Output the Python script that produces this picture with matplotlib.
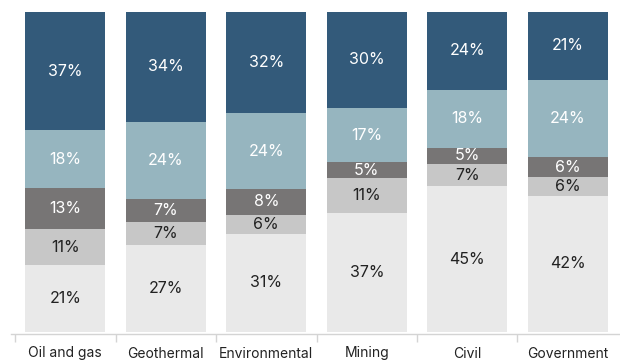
import numpy as np
import matplotlib.pyplot as plt

plt.rcParams['font.family'] = ['Inter', 'DejaVu Sans']

categories = ["Oil and gas", "Geothermal", "Environmental", "Mining", "Civil", "Government"]
# shares per segment, bottom to top
seg1 = [21, 27, 31, 37, 45, 42]
seg2 = [11, 7, 6, 11, 7, 6]
seg3 = [13, 7, 8, 5, 5, 6]
seg4 = [18, 24, 24, 17, 18, 24]
seg5 = [37, 34, 32, 30, 24, 21]

series = [seg1, seg2, seg3, seg4, seg5]
colors = ["#e9e9e9", "#c7c7c7", "#777575", "#96b5bf", "#335a7a"]
text_colors = ["#222222", "#222222", "white", "white", "white"]

data = np.array(series, dtype=float)
totals = data.sum(axis=0)
shares = data / totals * 100

fig = plt.figure(figsize=(6.2, 3.62), dpi=100)
ax = fig.add_axes([11 / 620, 28 / 362, 609 / 620, 322 / 362])

x = np.arange(len(categories))
bottom = np.zeros(len(categories))
for vals, raw, c, tc in zip(shares, data, colors, text_colors):
    ax.bar(x, vals, bottom=bottom, width=0.795, color=c, linewidth=0)
    for xi, b, v, r in zip(x, bottom, vals, raw):
        ax.text(xi, b + v / 2, f"{int(r)}%", ha="center", va="center",
                color=tc, fontsize=11.5)
    bottom += vals

ax.set_xlim(-0.54, 5.52)
ax.set_ylim(-0.7, 100)

for s in ["top", "left", "right"]:
    ax.spines[s].set_visible(False)
ax.spines["bottom"].set_color("#d4d4d4")
ax.spines["bottom"].set_linewidth(1)

ax.set_yticks([])
ax.set_xticks(x)
ax.set_xticklabels(categories, fontsize=10, color="#222222")
ax.tick_params(axis="x", which="major", length=0, pad=9)
# boundary ticks between categories
ax.set_xticks(x - 0.5, minor=True)
ax.tick_params(axis="x", which="minor", length=6, color="#d4d4d4", width=1)

fig.savefig("out.png", dpi=100)
